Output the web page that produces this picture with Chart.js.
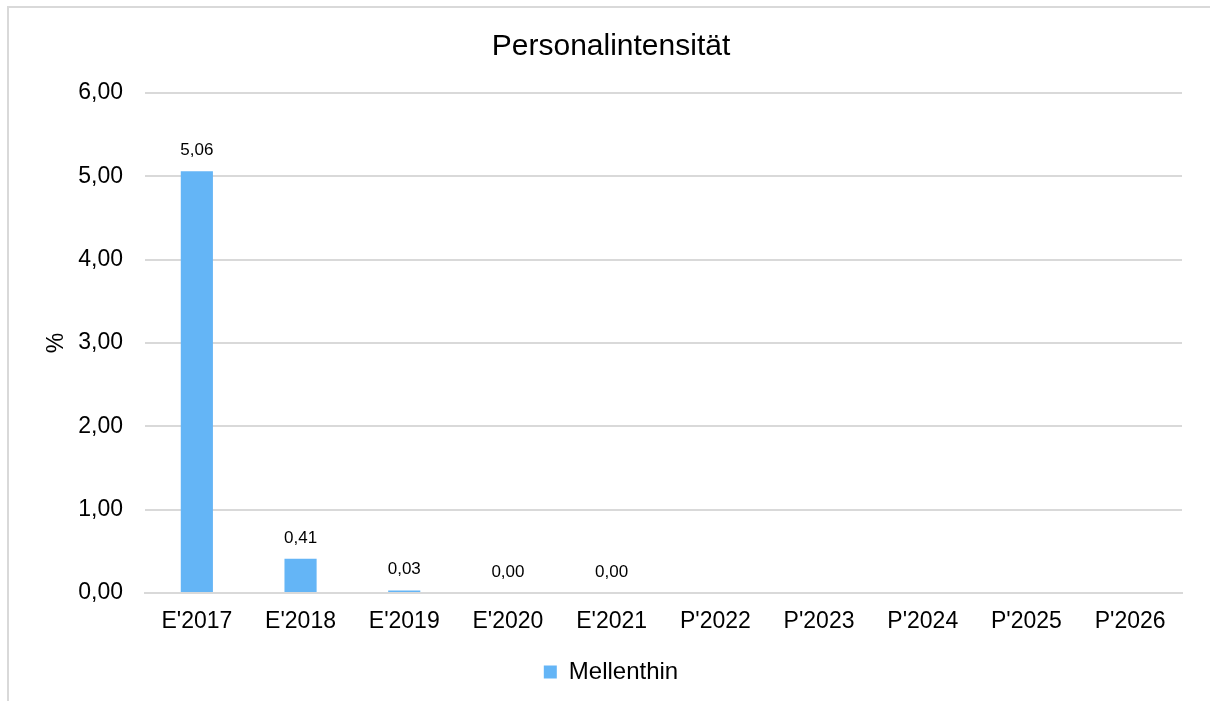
<!DOCTYPE html>
<html>
<head>
<meta charset="utf-8">
<script src="https://cdn.jsdelivr.net/npm/chart.js@4"></script>
<style>
  html, body { margin: 0; padding: 0; background: #fff; overflow: hidden; }
  #rahmen { position: absolute; left: 7px; top: 6px; width: 1300px; height: 800px; border: 2px solid #d9d9d9; }
  #grafico { position: absolute; left: 0; top: 0; }
</style>
</head>
<body>
<div id="rahmen"></div>
<canvas id="grafico" width="1210" height="701"></canvas>
<script>
// dados
const jahre = ["E'2017", "E'2018", "E'2019", "E'2020", "E'2021", "P'2022", "P'2023", "P'2024", "P'2025", "P'2026"];
const mellenthin = [5.06, 0.41, 0.03, 0.00, 0.00, null, null, null, null, null];
const yTicks = [0, 1, 2, 3, 4, 5, 6];

function komma(v) {
    return v.toFixed(2).replace('.', ',');
}

// rótulos em cima das barras
const rotulos = {
    id: 'rotulos',
    afterDatasetsDraw(chart) {
        const ctx = chart.ctx;
        const meta = chart.getDatasetMeta(0);
        ctx.save();
        ctx.font = '17px "Liberation Sans", Arial, sans-serif';
        ctx.fillStyle = '#000';
        ctx.textAlign = 'center';
        ctx.textBaseline = 'middle';
        meta.data.forEach((bar, i) => {
            const v = mellenthin[i];
            if (v === null) return;
            ctx.fillText(komma(v), bar.x, bar.y - 21);
        });
        ctx.restore();
    }
};

Chart.defaults.font.family = '"Liberation Sans", Arial, sans-serif';
Chart.defaults.color = '#000';

const ctx = document.getElementById('grafico');

new Chart(ctx, {
    type: 'bar',
    data: {
        labels: jahre,
        datasets: [{
            label: 'Mellenthin',
            data: mellenthin,
            backgroundColor: '#64b5f6',
            barPercentage: 0.31,
            categoryPercentage: 1.0
        }]
    },
    options: {
        responsive: false,
        animation: false,
        layout: {
            padding: { left: 40, right: 28, top: 10, bottom: 7 }
        },
        plugins: {
            title: {
                display: true,
                text: 'Personalintensität',
                font: { size: 30, weight: 'normal' },
                color: '#000',
                padding: { top: 19, bottom: 28 }
            },
            legend: {
                position: 'bottom',
                labels: {
                    font: { size: 24 },
                    boxWidth: 13,
                    boxHeight: 13,
                    padding: 20
                }
            },
            tooltip: { enabled: false }
        },
        scales: {
            x: {
                afterFit(axis) {
                    axis.height = 47;
                },
                grid: { display: false, drawTicks: false },
                border: { display: true, color: '#d9d9d9', width: 2 },
                ticks: { font: { size: 23 }, padding: 15, maxRotation: 0 }
            },
            y: {
                min: 0,
                max: 6,
                afterBuildTicks(axis) {
                    axis.ticks = yTicks.map(v => ({ value: v }));
                },
                afterFit(axis) {
                    axis.width = 105;
                },
                grid: { color: '#d9d9d9', lineWidth: 2, drawTicks: false },
                border: { display: false },
                ticks: {
                    font: { size: 23 },
                    padding: 22,
                    callback: v => komma(v)
                },
                title: {
                    display: true,
                    text: '%',
                    font: { size: 23 },
                    padding: 3
                }
            }
        }
    },
    plugins: [rotulos]
});
</script>
</body>
</html>
